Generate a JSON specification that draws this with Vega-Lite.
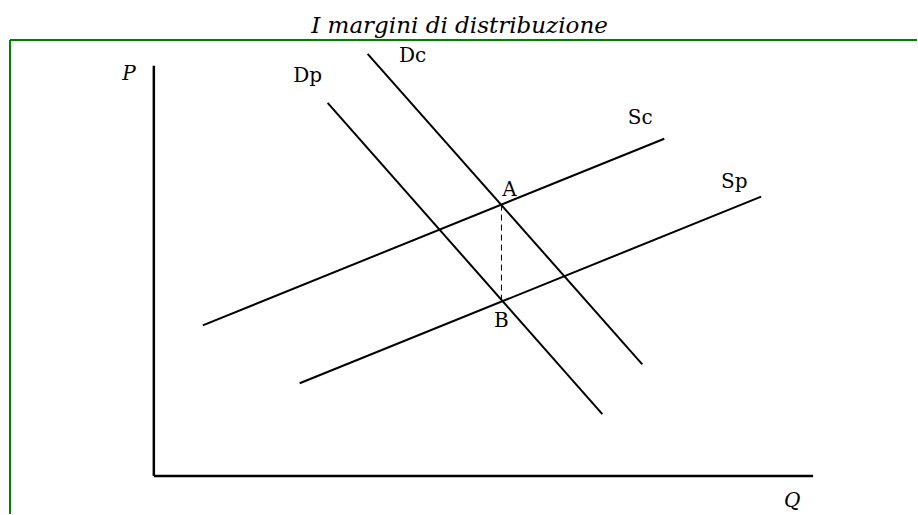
{
  "$schema": "https://vega.github.io/schema/vega-lite/v6.json",
  "width": 918,
  "height": 515,
  "padding": 0,
  "autosize": {"type": "fit", "contains": "padding"},
  "background": "white",
  "config": {"view": {"stroke": null}},
  "datasets": {
    "segs": [
      {"name": "Sc", "kind": "curve", "q": 49, "p": 151, "q2": 511, "p2": 338},
      {"name": "Sp", "kind": "curve", "q": 146, "p": 93, "q2": 608, "p2": 280},
      {"name": "Dp", "kind": "curve", "q": 174, "p": 374, "q2": 449, "p2": 62},
      {"name": "Dc", "kind": "curve", "q": 214, "p": 423, "q2": 489, "p2": 112},
      {"name": "P axis", "kind": "axis", "q": 0, "p": 411, "q2": 0, "p2": 0},
      {"name": "Q axis", "kind": "axis", "q": 0, "p": 0, "q2": 660, "p2": 0},
      {"name": "AB", "kind": "dash", "q": 348, "p": 272, "q2": 348, "p2": 176},
      {"name": "frame top", "kind": "frame", "q": -144, "p": 437, "q2": 764, "p2": 437},
      {"name": "frame left", "kind": "frame", "q": -144, "p": 437, "q2": -144, "p2": -38}
    ],
    "labels": [
      {"text": "I margini di distribuzione", "kind": "title", "q": 306, "p": 444},
      {"text": "P", "kind": "axis", "q": -25, "p": 397},
      {"text": "Q", "kind": "axis", "q": 639, "p": -31},
      {"text": "Dp", "kind": "curve", "q": 154, "p": 395},
      {"text": "Dc", "kind": "curve", "q": 259, "p": 415},
      {"text": "Sc", "kind": "curve", "q": 487, "p": 353},
      {"text": "Sp", "kind": "curve", "q": 581, "p": 289},
      {"text": "A", "kind": "curve", "q": 356, "p": 281},
      {"text": "B", "kind": "curve", "q": 348, "p": 149}
    ]
  },
  "encoding": {
    "x": {"field": "q", "type": "quantitative", "scale": {"domain": [-154, 764], "nice": false, "zero": false}, "axis": null},
    "y": {"field": "p", "type": "quantitative", "scale": {"domain": [-38, 477], "nice": false, "zero": false}, "axis": null}
  },
  "layer": [
    {
      "data": {"name": "segs"},
      "transform": [{"filter": "datum.kind === 'frame'"}],
      "mark": {"type": "rule", "color": "#008000", "strokeWidth": 2},
      "encoding": {"x2": {"field": "q2"}, "y2": {"field": "p2"}}
    },
    {
      "data": {"name": "segs"},
      "transform": [{"filter": "datum.kind === 'curve'"}],
      "mark": {"type": "rule", "color": "black", "strokeWidth": 2},
      "encoding": {"x2": {"field": "q2"}, "y2": {"field": "p2"}}
    },
    {
      "data": {"name": "segs"},
      "transform": [{"filter": "datum.kind === 'axis'"}],
      "mark": {"type": "rule", "color": "black", "strokeWidth": 2.5},
      "encoding": {"x2": {"field": "q2"}, "y2": {"field": "p2"}}
    },
    {
      "data": {"name": "segs"},
      "transform": [{"filter": "datum.kind === 'dash'"}],
      "mark": {"type": "rule", "color": "black", "strokeWidth": 1, "strokeDash": [6, 4]},
      "encoding": {"x2": {"field": "q2"}, "y2": {"field": "p2"}}
    },
    {
      "data": {"name": "labels"},
      "transform": [{"filter": "datum.kind === 'title'"}],
      "mark": {"type": "text", "font": "DejaVu Serif", "fontStyle": "italic", "fontSize": 23, "align": "center", "baseline": "alphabetic", "color": "black"},
      "encoding": {"text": {"field": "text"}}
    },
    {
      "data": {"name": "labels"},
      "transform": [{"filter": "datum.kind === 'axis'"}],
      "mark": {"type": "text", "font": "DejaVu Serif", "fontStyle": "italic", "fontSize": 20, "align": "center", "baseline": "alphabetic", "color": "black"},
      "encoding": {"text": {"field": "text"}}
    },
    {
      "data": {"name": "labels"},
      "transform": [{"filter": "datum.kind === 'curve'"}],
      "mark": {"type": "text", "font": "DejaVu Serif", "fontSize": 20, "align": "center", "baseline": "alphabetic", "color": "black"},
      "encoding": {"text": {"field": "text"}}
    }
  ]
}
